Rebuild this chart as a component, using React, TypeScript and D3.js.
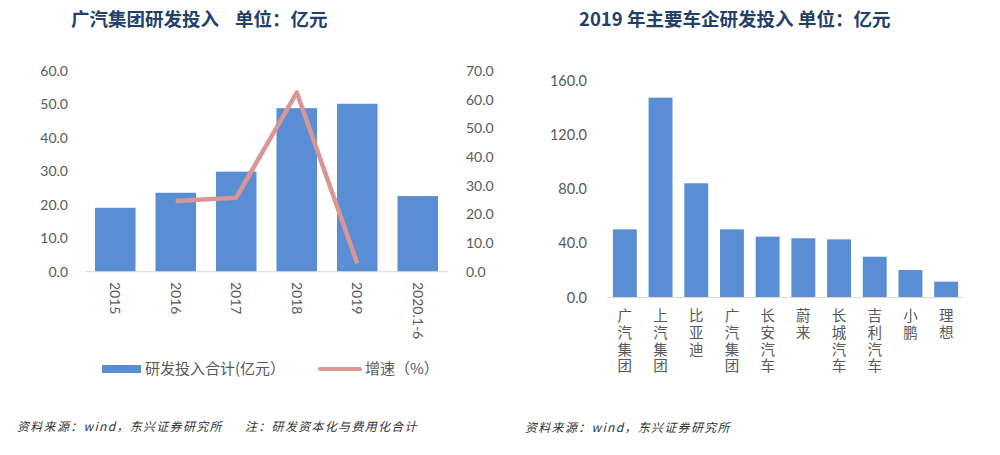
import React from "react";
import * as d3 from "d3";

const years = ["2015", "2016", "2017", "2018", "2019", "2020.1-6"];
const rdTotal = [19.1, 23.6, 29.9, 48.9, 50.2, 22.6];
const growthYears = ["2016", "2017", "2018", "2019"];
const growth = [24.7, 25.8, 62.5, 2.9];
const leftTicks = [0, 10, 20, 30, 40, 50, 60];
const rightTicks = [0, 10, 20, 30, 40, 50, 60, 70];

const companies = ["广汽集团", "上汽集团", "比亚迪", "广汽集团", "长安汽车", "蔚来", "长城汽车", "吉利汽车", "小鹏", "理想"];
const companyRd = [50.3, 147.5, 84.3, 50.3, 44.9, 43.7, 42.9, 30.1, 20.3, 11.7];
const compTicks = [0, 40, 80, 120, 160];

const BAR = "#5A8ED4";
const LINE = "#D99694";
const TICK = "#595959";
const TITLE = "#23406A";
const NUM_FONT = "Lato, 'Noto Sans CJK SC', sans-serif";
const CJK_FONT = "'Noto Sans CJK SC', sans-serif";

export default function App() {
  const xL = d3.scaleBand<string>().domain(years).range([85, 448]).paddingInner(0.33).paddingOuter(0.165);
  const yL = d3.scaleLinear().domain([0, 60]).range([271.7, 71]);
  const yL2 = d3.scaleLinear().domain([0, 70]).range([271.7, 71]);
  const lineGen = d3
    .line<number>()
    .x((_, i) => (xL(growthYears[i]) as number) + xL.bandwidth() / 2)
    .y((d) => yL2(d));

  const idx = d3.range(companies.length);
  const xR = d3.scaleBand<number>().domain(idx).range([607, 964]).paddingInner(0.33).paddingOuter(0.165);
  const yR = d3.scaleLinear().domain([0, 160]).range([297.5, 80.7]);

  return (
    <svg width={1000} height={455} style={{ position: "absolute", left: 0, top: 0, background: "#fff" }}>
      <text y={26} fontFamily={CJK_FONT} fontWeight="bold" fontSize={18.5} fill={TITLE}>
        <tspan x={71}>广汽集团研发投入</tspan>
        <tspan x={235}>单位：亿元</tspan>
      </text>
      {years.map((y, i) => (
        <rect key={y} x={xL(y)} y={yL(rdTotal[i])} width={xL.bandwidth()} height={yL(0) - yL(rdTotal[i])} fill={BAR} />
      ))}
      <line x1={85} x2={448} y1={yL(0)} y2={yL(0)} stroke="#D9D9D9" strokeWidth={1} />
      <path d={lineGen(growth) || ""} fill="none" stroke={LINE} strokeWidth={4.5} strokeLinejoin="round" />
      {leftTicks.map((t) => (
        <text key={t} x={68} y={yL(t)} dy="0.35em" textAnchor="end" fontFamily={NUM_FONT} fontSize={14} fill={TICK}>
          {t.toFixed(1)}
        </text>
      ))}
      {rightTicks.map((t) => (
        <text key={t} x={466} y={yL2(t)} dy="0.35em" textAnchor="start" fontFamily={NUM_FONT} fontSize={14} fill={TICK}>
          {t.toFixed(1)}
        </text>
      ))}
      {years.map((y) => {
        const cx = (xL(y) as number) + xL.bandwidth() / 2;
        return (
          <text
            key={y}
            transform={`translate(${cx},282) rotate(90)`}
            dy="0.35em"
            textAnchor="start"
            fontFamily={NUM_FONT}
            fontSize={14}
            fill={TICK}
          >
            {y}
          </text>
        );
      })}
      <rect x={102} y={365} width={39} height={8} fill={BAR} />
      <text x={145} y={369} dy="0.35em" fontFamily={CJK_FONT} fontSize={15} fill={TICK}>
        研发投入合计(亿元）
      </text>
      <line x1={320} x2={360} y1={369} y2={369} stroke={LINE} strokeWidth={4} strokeLinecap="round" />
      <text x={365} y={369} dy="0.35em" fontFamily={CJK_FONT} fontSize={15} fill={TICK}>
        增速（%）
      </text>
      <text y={427} dy="0.35em" fontFamily={CJK_FONT} fontStyle="italic" fontSize={12} letterSpacing={1.3} fill="#333">
        <tspan x={17}>资料来源：wind，东兴证券研究所</tspan>
        <tspan x={245}>注：研发资本化与费用化合计</tspan>
      </text>

      <text y={26} fontFamily={CJK_FONT} fontWeight="bold" fontSize={18.5} fill={TITLE}>
        <tspan x={579}>2019</tspan>
        <tspan x={627}>年主要车企研发投入</tspan>
        <tspan x={798}>单位：亿元</tspan>
      </text>
      {idx.map((i) => (
        <rect key={i} x={xR(i)} y={yR(companyRd[i])} width={xR.bandwidth()} height={yR(0) - yR(companyRd[i])} fill={BAR} />
      ))}
      <line x1={607} x2={964} y1={yR(0)} y2={yR(0)} stroke="#D9D9D9" strokeWidth={1} />
      {compTicks.map((t) => (
        <text key={t} x={587} y={yR(t)} dy="0.35em" textAnchor="end" fontFamily={NUM_FONT} fontSize={14.5} fill={TICK}>
          {t.toFixed(1)}
        </text>
      ))}
      {idx.map((i) => {
        const cx = (xR(i) as number) + xR.bandwidth() / 2;
        return (
          <text
            key={i}
            x={cx}
            y={308.5}
            textAnchor="start"
            fontFamily={CJK_FONT}
            fontSize={14.5}
            letterSpacing={2.2}
            fill={TICK}
            style={{ writingMode: "vertical-rl", textOrientation: "upright" } as React.CSSProperties}
          >
            {companies[i]}
          </text>
        );
      })}
      <text x={525} y={428} dy="0.35em" fontFamily={CJK_FONT} fontStyle="italic" fontSize={12} letterSpacing={1.3} fill="#333">
        资料来源：wind，东兴证券研究所
      </text>
    </svg>
  );
}
